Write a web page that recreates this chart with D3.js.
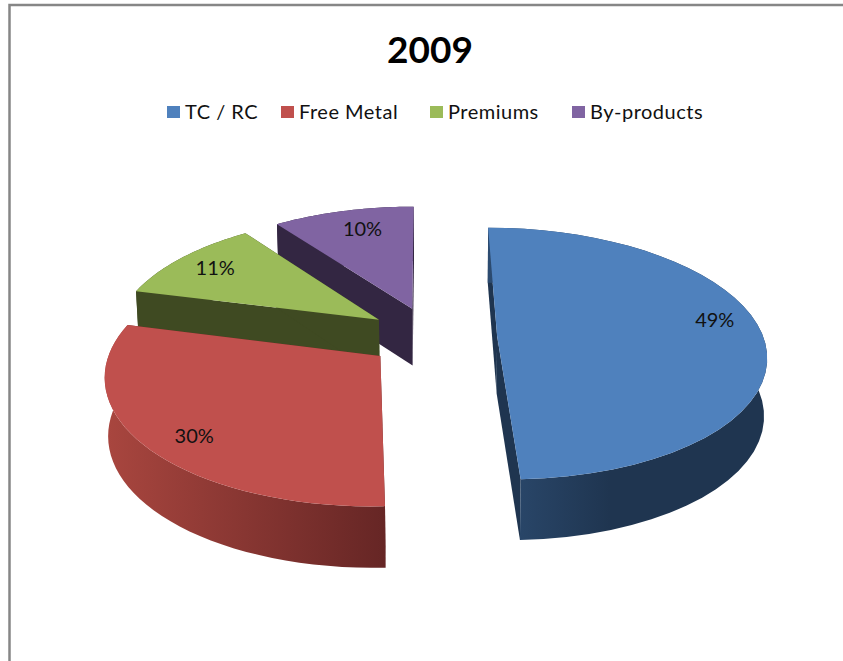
<!DOCTYPE html>
<html>
<head>
<meta charset="utf-8">
<script src="https://cdn.jsdelivr.net/npm/d3@7"></script>
<style>
html, body { margin: 0; padding: 0; background: #fff; }
svg { display: block; }
text { font-family: Lato, sans-serif; fill: #111; }
</style>
</head>
<body>
<div id="chart"></div>
<script>
var categories = ["TC / RC", "Free Metal", "Premiums", "By-products"];
var shares = [49.4, 29.6, 11, 10];
var labels = ["49%", "30%", "11%", "10%"];
var topColors = ["#4f81bd", "#c0504d", "#9bbb59", "#8064a2"];
var wallColors = ["#1f3550", "#652625", "#3f4a22", "#332642"];
var sideFrom = ["#2c4b70", "#a9463f", "#3f4a22", "#332642"];
var sideTo = ["#1f3550", "#662625", "#3f4a22", "#332642"];
// legend box starts
var legendX = [167, 281, 430, 572];

// where each label sits on its slice (turn from mid angle in degrees, radius)
var labelTurn = [-8, -4, 0, 2];
var labelRadius = [0.85, 0.84, 0.82, 0.79];

var width = 843, height = 661;

// projection of the tilted disc
var p = {vx: 424, ax: 432, ay: 336.5, sx: 266, sz: 123.5, k: 0.14, explode: 0.245, depth: 57.5, converge: 0.99, vbx: 450};

var svg = d3.select("#chart").append("svg")
  .attr("width", width)
  .attr("height", height);

var defs = svg.append("defs");

svg.append("path")
  .attr("d", "M9.5," + height + "V5H" + width)
  .attr("fill", "none")
  .attr("stroke", "#868686")
  .attr("stroke-width", 2.5);

svg.append("text")
  .attr("x", 430)
  .attr("y", 63)
  .attr("text-anchor", "middle")
  .style("font-size", "37px")
  .style("font-weight", 700)
  .style("fill", "#000")
  .text("2009");

// legend
var legend = svg.selectAll(".legend")
  .data(categories)
  .enter().append("g")
  .attr("class", "legend")
  .attr("transform", function(d, i) { return "translate(" + legendX[i] + ",106)"; });

legend.append("rect")
  .attr("width", 13)
  .attr("height", 12)
  .attr("fill", function(d, i) { return topColors[i]; });

legend.append("text")
  .attr("x", 18)
  .attr("y", 13)
  .style("font-size", "20px")
  .style("letter-spacing", "0.5px")
  .text(function(d) { return d; });

function project(x, z) {
  var f = 1 / (1 + p.k * z);
  return [p.vx + (p.ax - p.vx + p.sx * x) * f, p.ay - p.sz * z * f];
}

function drop(pt) {
  return [p.vbx + (pt[0] - p.vbx) * p.converge, pt[1] + p.depth * (1 + (pt[1] - 338) / 2500)];
}

var pie = d3.pie().sort(null).value(function(d) { return d; });
var arcs = pie(shares);
var line = d3.line();

// point on a slice: apex pushed out along the mid angle, then out along angle a
function slicePoint(d, a, r) {
  var mid = (d.startAngle + d.endAngle) / 2;
  return project(p.explode * Math.sin(mid) + r * Math.sin(a), p.explode * Math.cos(mid) + r * Math.cos(a));
}

function arcPoints(d) {
  var steps = d3.range(0, 41).map(function(i) {
    return d.startAngle + (d.endAngle - d.startAngle) * i / 40;
  });
  return steps.map(function(a) { return slicePoint(d, a, 1); });
}

// back slices first so front ones cover them
var order = [3, 2, 0, 1];

order.forEach(function(i) {
  var d = arcs[i];
  var rim = arcPoints(d);
  var apex = slicePoint(d, 0, 0);
  var g = svg.append("g").attr("class", "slice");

  var grad = defs.append("linearGradient")
    .attr("id", "side" + i)
    .attr("gradientUnits", "userSpaceOnUse")
    .attr("x1", d3.min(rim, function(q) { return q[0]; }))
    .attr("x2", i == 0 ? 610 : d3.max(rim, function(q) { return q[0]; }))
    .attr("y1", 0)
    .attr("y2", 0);
  grad.append("stop").attr("offset", 0).attr("stop-color", sideFrom[i]);
  grad.append("stop").attr("offset", 1).attr("stop-color", sideTo[i]);

  // the two cut walls
  [rim[0], rim[rim.length - 1]].forEach(function(q) {
    g.append("path")
      .attr("d", line([apex, q, drop(q), drop(apex)]) + "Z")
      .attr("fill", wallColors[i]);
  });

  // outer wall
  g.append("path")
    .attr("d", line(rim.concat(rim.map(drop).reverse())) + "Z")
    .attr("fill", "url(#side" + i + ")");

  // top face
  g.append("path")
    .attr("d", line([apex].concat(rim)) + "Z")
    .attr("fill", topColors[i]);
});

// data labels
svg.selectAll(".label")
  .data(arcs)
  .enter().append("text")
  .attr("class", "label")
  .attr("text-anchor", "middle")
  .attr("dy", "0.35em")
  .attr("transform", function(d, i) {
    var a = (d.startAngle + d.endAngle) / 2 + labelTurn[i] * Math.PI / 180;
    return "translate(" + slicePoint(d, a, labelRadius[i]) + ")";
  })
  .style("font-size", "20px")
  .text(function(d, i) { return labels[i]; });
</script>
</body>
</html>
